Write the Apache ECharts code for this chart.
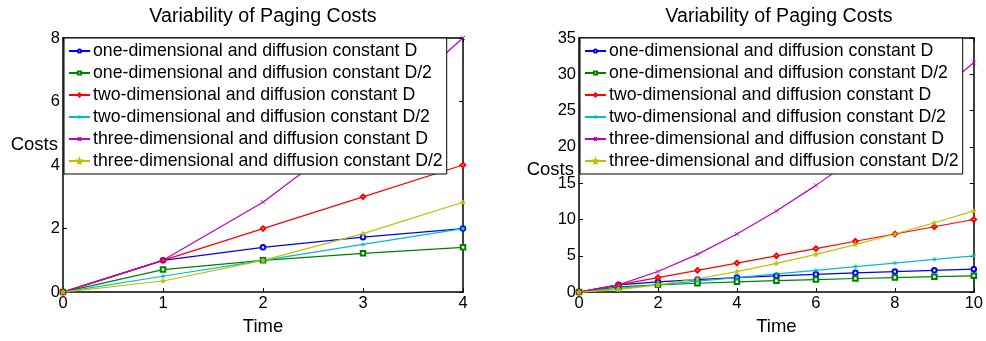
<!DOCTYPE html>
<html>
<head>
<meta charset="utf-8">
<script src="https://cdn.jsdelivr.net/npm/echarts@6/dist/echarts.min.js"></script>
<style>
  html, body { margin: 0; padding: 0; background: #fff; }
  #chart { width: 986px; height: 341px; }
</style>
</head>
<body>
<div id="chart"></div>
<script>
// time steps of the long run; the left panel shows the first five
const time = [0, 1, 2, 3, 4, 5, 6, 7, 8, 9, 10]
const shortCount = 5

const oneDimD = [0, 1, 1.41, 1.73, 2, 2.24, 2.45, 2.65, 2.83, 3, 3.16]
const oneDimHalfD = [0, 0.71, 1, 1.22, 1.41, 1.58, 1.73, 1.87, 2, 2.12, 2.24]
const twoDimD = [0, 1, 2, 3, 4, 5, 6, 7, 8, 9, 10]
const twoDimHalfD = [0, 0.5, 1, 1.5, 2, 2.5, 3, 3.5, 4, 4.5, 5]
const threeDimD = [0, 1, 2.83, 5.2, 8, 11.18, 14.7, 18.52, 22.63, 27, 31.62]
const threeDimHalfD = [0, 0.35, 1, 1.84, 2.83, 3.95, 5.2, 6.55, 8, 9.55, 11.18]

const seriesNames = [
  'one-dimensional and diffusion constant D',
  'one-dimensional and diffusion constant D/2',
  'two-dimensional and diffusion constant D',
  'two-dimensional and diffusion constant D/2',
  'three-dimensional and diffusion constant D',
  'three-dimensional and diffusion constant D/2'
]
const seriesValues = [oneDimD, oneDimHalfD, twoDimD, twoDimHalfD, threeDimD, threeDimHalfD]

const leftTicks = { min: 0, max: 4, interval: 1 }
const leftCostTicks = { min: 0, max: 8, interval: 2 }
const rightTicks = { min: 0, max: 10, interval: 2 }
const rightCostTicks = { min: 0, max: 35, interval: 5 }

const colors = ['#0000ff', '#008000', '#ff0000', '#00bfbf', '#bf00bf', '#bfbf00']
const symbols = [
  'emptyCircle',
  'emptyRect',
  'emptyDiamond',
  'path://M5,0L5,10M0,5L10,5M1.5,1.5L8.5,8.5M8.5,1.5L1.5,8.5',
  'path://M0,0L10,10M10,0L0,10',
  'path://M5,0L6.2,3.6L10,3.6L7,5.9L8.1,9.5L5,7.3L1.9,9.5L3,5.9L0,3.6L3.8,3.6Z'
]

const chart = echarts.init(document.getElementById('chart'), null, { renderer: 'canvas' })

const font = 'Liberation Sans, Arial, Helvetica, sans-serif'

function bottomAxis(gridIndex, ticks) {
  return {
    type: 'value',
    gridIndex: gridIndex,
    position: 'bottom',
    min: ticks.min,
    max: ticks.max,
    interval: ticks.interval,
    name: 'Time',
    nameLocation: 'middle',
    nameGap: 19,
    nameTextStyle: { color: '#000', fontSize: 18.5, fontFamily: font },
    axisLine: { show: true, lineStyle: { color: '#000', width: 1.5 } },
    axisTick: { show: true, inside: true, length: 4, lineStyle: { color: '#000' } },
    axisLabel: { color: '#000', fontSize: 16.5, fontFamily: font, margin: 3 },
    splitLine: { show: false }
  }
}

function topAxis(gridIndex, ticks) {
  return {
    type: 'value',
    gridIndex: gridIndex,
    position: 'top',
    min: ticks.min,
    max: ticks.max,
    interval: ticks.interval,
    axisLine: { show: true, onZero: false, lineStyle: { color: '#000', width: 1.5 } },
    axisTick: { show: true, inside: true, length: 4, lineStyle: { color: '#000' } },
    axisLabel: { show: false },
    splitLine: { show: false }
  }
}

function leftAxis(gridIndex, ticks) {
  return {
    type: 'value',
    gridIndex: gridIndex,
    position: 'left',
    min: ticks.min,
    max: ticks.max,
    interval: ticks.interval,
    axisLine: { show: true, lineStyle: { color: '#000', width: 1.5 } },
    axisTick: { show: true, inside: true, length: 4, lineStyle: { color: '#000' } },
    axisLabel: { color: '#000', fontSize: 16.5, fontFamily: font, margin: 3 },
    splitLine: { show: false }
  }
}

function rightAxis(gridIndex, ticks) {
  return {
    type: 'value',
    gridIndex: gridIndex,
    position: 'right',
    min: ticks.min,
    max: ticks.max,
    interval: ticks.interval,
    axisLine: { show: true, onZero: false, lineStyle: { color: '#000', width: 1.5 } },
    axisTick: { show: true, inside: true, length: 4, lineStyle: { color: '#000' } },
    axisLabel: { show: false },
    splitLine: { show: false }
  }
}

function legendFor(left) {
  return {
    left: left,
    top: 38,
    orient: 'vertical',
    data: seriesNames,
    backgroundColor: '#fff',
    borderColor: '#000',
    borderWidth: 1,
    borderRadius: 0,
    padding: [4, 4, 4, 4],
    itemGap: 4,
    itemWidth: 21,
    itemHeight: 4,
    selectedMode: false,
    textStyle: { color: '#000', fontSize: 17.7, lineHeight: 18, fontFamily: font, padding: [0, 0, 0, -2] }
  }
}

function costsLabel(x, y) {
  return {
    type: 'text',
    x: x,
    y: y,
    style: {
      text: 'Costs',
      align: 'right',
      verticalAlign: 'middle',
      fill: '#000',
      fontSize: 18.5,
      fontFamily: font
    }
  }
}

const series = []
seriesNames.forEach((name, i) => {
  const values = seriesValues[i]
  const base = {
    name: name,
    type: 'line',
    symbol: symbols[i],
    symbolSize: 4.5,
    showSymbol: true,
    color: colors[i],
    lineStyle: { color: colors[i], width: 1.2 },
    itemStyle: { color: colors[i], borderColor: colors[i], borderWidth: 0.8 },
    z: 2
  }
  series.push(Object.assign({}, base, {
    xAxisIndex: 0,
    yAxisIndex: 0,
    data: time.slice(0, shortCount).map((t, k) => [t, values[k]])
  }))
  series.push(Object.assign({}, base, {
    xAxisIndex: 2,
    yAxisIndex: 2,
    data: time.map((t, k) => [t, values[k]])
  }))
})

chart.setOption({
  animation: false,
  backgroundColor: '#fff',
  title: [
    { text: 'Variability of Paging Costs', left: 263, top: 7, textAlign: 'center', padding: 0,
      textStyle: { color: '#000', fontSize: 19.6, fontWeight: 'normal', fontFamily: font } },
    { text: 'Variability of Paging Costs', left: 779, top: 7, textAlign: 'center', padding: 0,
      textStyle: { color: '#000', fontSize: 19.6, fontWeight: 'normal', fontFamily: font } }
  ],
  grid: [
    { left: 63, top: 38, width: 400, height: 263, show: false },
    { left: 579, top: 38, width: 400, height: 263, show: false }
  ],
  legend: [legendFor(64), legendFor(580)],
  xAxis: [
    bottomAxis(0, leftTicks),
    topAxis(0, leftTicks),
    bottomAxis(1, rightTicks),
    topAxis(1, rightTicks)
  ],
  yAxis: [
    leftAxis(0, leftCostTicks),
    rightAxis(0, leftCostTicks),
    leftAxis(1, rightCostTicks),
    rightAxis(1, rightCostTicks)
  ],
  graphic: [costsLabel(58, 145), costsLabel(574, 170)],
  series: series
})
</script>
</body>
</html>
